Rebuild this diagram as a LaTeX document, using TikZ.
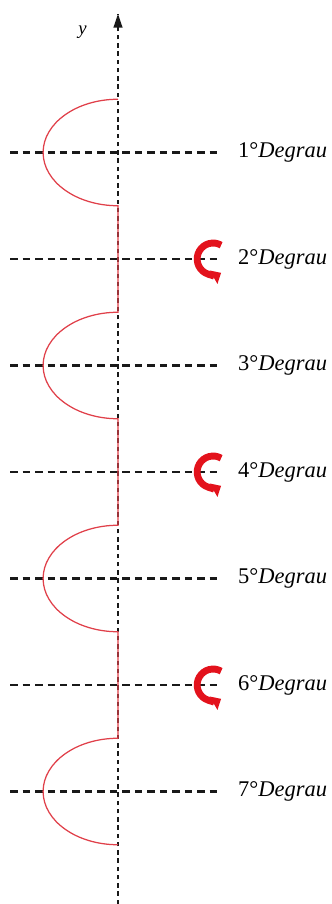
\documentclass[tikz,border=0pt]{standalone}
\usepackage{fontspec}
\setmainfont{Liberation Serif}
\usepackage{xcolor}
\usepackage{tikz}
\usetikzlibrary{arrows.meta}
\definecolor{stairRed}{HTML}{E0404A}
\definecolor{turnRed}{HTML}{E3121C}

\tikzset{
  guide/.style={black!90, line width=1.8pt, dash pattern=on 6pt off 4pt},
  axisline/.style={black!90, line width=1.7pt, dash pattern=on 3.6pt off 3pt},
  stairline/.style={stairRed, line width=1pt},
  turnarrow/.style={turnRed, line width=5.5pt, -{Triangle[length=7pt,width=12pt]}},
  steplabel/.style={anchor=west, inner sep=0pt, font=\fontsize{18}{20}\selectfont}
}

\begin{document}
\begin{tikzpicture}
    \useasboundingbox (-3.324,-12.169) rectangle (6.028,13.296);
    % vertical axis
    \coordinate (bot) at (0,-12.169);
    \coordinate (top) at (0,12.9);
    \draw[axisline] (bot) -- (top);
    \fill[black!90] (top) -- ++(-0.13,-0.38) -- ++(0.26,0) -- cycle;
    \node[font=\fontsize{15}{18}\selectfont\itshape] (ylab) at (-1.0,12.4) {y};
    % steps
    \foreach \k in {1,...,7} {
        \coordinate (s\k) at (0,{(4-\k)*3});
        \draw[guide] ([xshift=-3.04cm]s\k) -- ([xshift=2.93cm]s\k);
        \node[steplabel] (d\k) at ([xshift=3.38cm]s\k) {\k°\textit{Degrau}};
    }
    % stair outline
    \draw[stairline] (0,10.5) arc[start angle=90, end angle=270, x radius=2.11, y radius=1.5]
        -- (0,4.5) arc[start angle=90, end angle=270, x radius=2.11, y radius=1.5]
        -- (0,-1.5) arc[start angle=90, end angle=270, x radius=2.11, y radius=1.5]
        -- (0,-7.5) arc[start angle=90, end angle=270, x radius=2.11, y radius=1.5];
    % turning arrows
    \foreach \k in {2,4,6} {
        \draw[turnarrow] ([shift={(60:0.45)}]s\k) ++(2.68,0)
            arc[start angle=60, end angle=300, radius=0.45];
    }
\end{tikzpicture}
\end{document}
